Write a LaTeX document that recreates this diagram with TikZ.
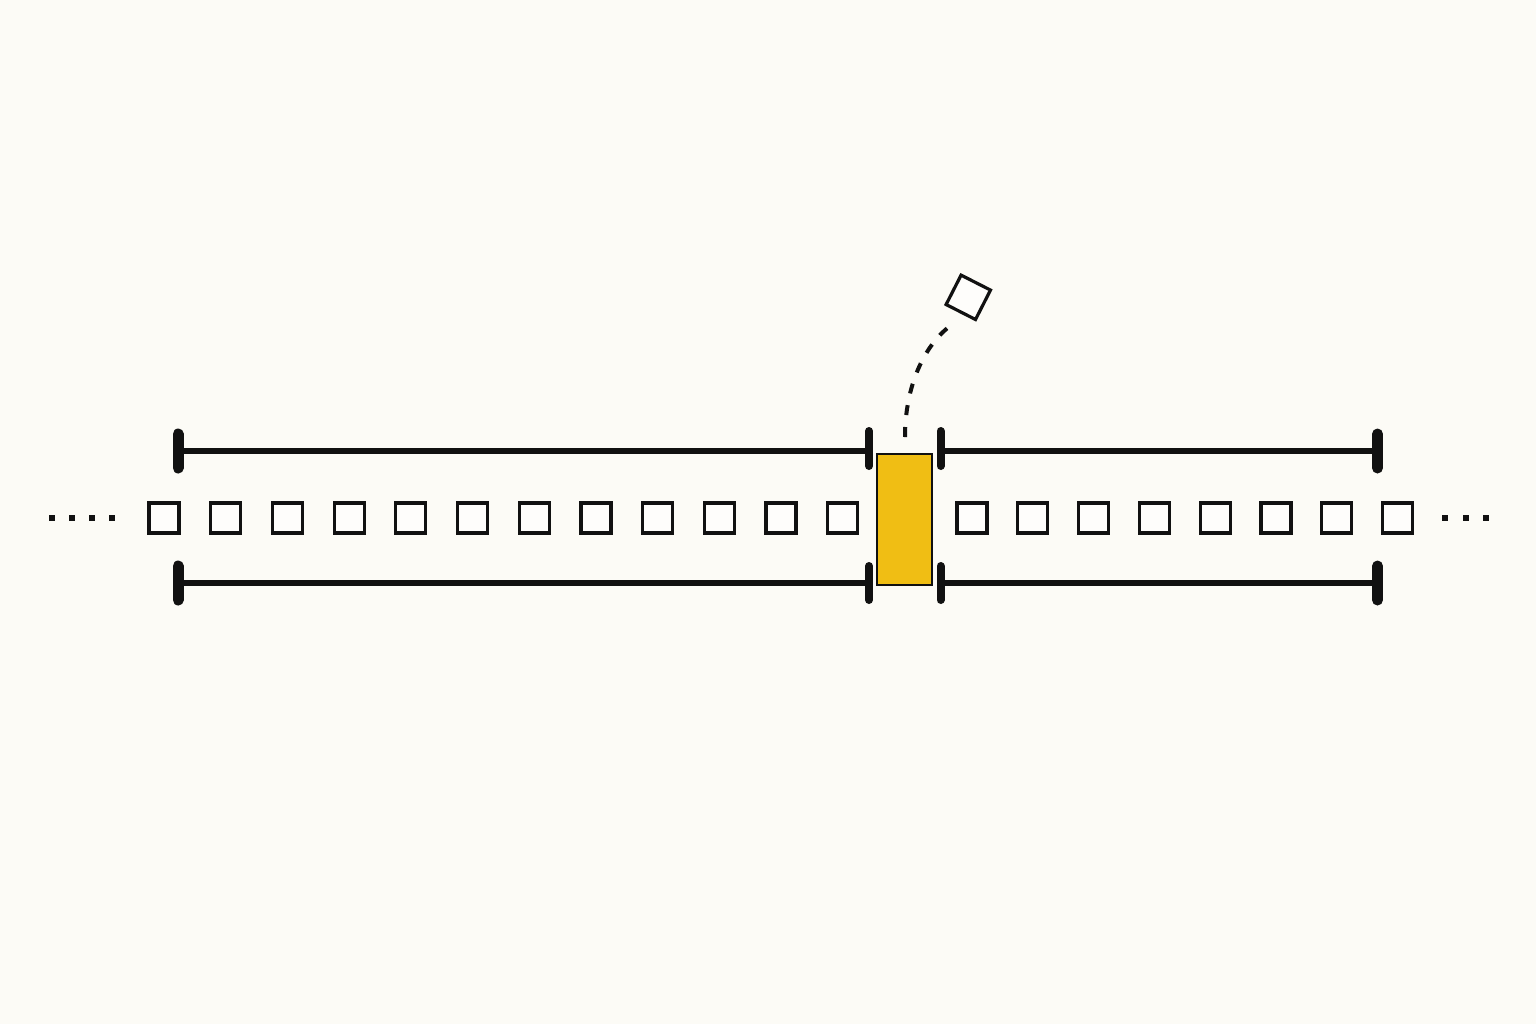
\documentclass[tikz,border=0pt]{standalone}
\definecolor{bgc}{RGB}{252,251,246}
\definecolor{gold}{RGB}{240,190,20}
\definecolor{ink}{RGB}{17,17,17}
\begin{document}
\begin{tikzpicture}[x=0.5pt,y=0.5pt,
  cell/.style={draw=ink,line width=1.6pt,minimum size=15pt,inner sep=0pt,fill=white!60!bgc},
  dotbox/.style={fill=ink,minimum size=3pt,inner sep=0pt},
  rail/.style={draw=ink,line width=3pt},
  endbar/.style={draw=ink,line width=5.5pt,line cap=round},
  midbar/.style={draw=ink,line width=4pt,line cap=round},
  slot/.style={draw=ink,line width=0.8pt,fill=gold,minimum width=27.5pt,minimum height=65.5pt,inner sep=0pt},
  arc/.style={draw=ink,line width=2pt,dash pattern=on 5pt off 6pt}]
\fill[bgc] (0,0) rectangle (1536,-1024);
\useasboundingbox (0,0) rectangle (1536,-1024);
% cells
\foreach \i in {0,...,11}{
  \node[cell] (L\i) at ({164+61.7*\i},-518) {};
}
\foreach \i in {0,...,7}{
  \node[cell] (R\i) at ({972+60.8*\i},-518) {};
}
% dots
\foreach \x [count=\k] in {51.7,71.7,91.7,111.7}{
  \node[dotbox] (dl\k) at (\x,-518) {};
}
\foreach \x [count=\k] in {1445,1465.7,1486}{
  \node[dotbox] (dr\k) at (\x,-518) {};
}
% highlighted slot
\node[slot] (slot) at (904.7,-519.5) {};
% brackets
\coordinate (tl) at (178,-451); \coordinate (tm) at (869,-451);
\coordinate (tn) at (940.5,-451); \coordinate (tr) at (1377.5,-451);
\coordinate (bl) at (178,-583); \coordinate (bm) at (869,-583);
\coordinate (bn) at (940.5,-583); \coordinate (br) at (1377.5,-583);
\draw[rail] (tl) -- (tm);
\draw[rail] (tn) -- (tr);
\draw[rail] (bl) -- (bm);
\draw[rail] (bn) -- (br);
\foreach \p in {tl,tr,bl,br}{
  \draw[endbar] ([yshift=8.5pt]\p) -- ([yshift=-8.5pt]\p);
}
\foreach \p in {tm,tn}{
  \draw[midbar] ([yshift=10pt]\p) -- ([yshift=-7.5pt]\p);
}
\foreach \p in {bm,bn}{
  \draw[midbar] ([yshift=8.5pt]\p) -- ([yshift=-8.5pt]\p);
}
% tilted cell and its path
\node[cell,minimum size=16.5pt,rotate=-27] (fly) at (968.3,-297.3) {};
\coordinate (cstart) at (905,-437);
\coordinate (cend) at (950,-326);
\draw[arc] (cstart) .. controls (905,-385) and (925,-345) .. (cend);
\end{tikzpicture}
\end{document}
